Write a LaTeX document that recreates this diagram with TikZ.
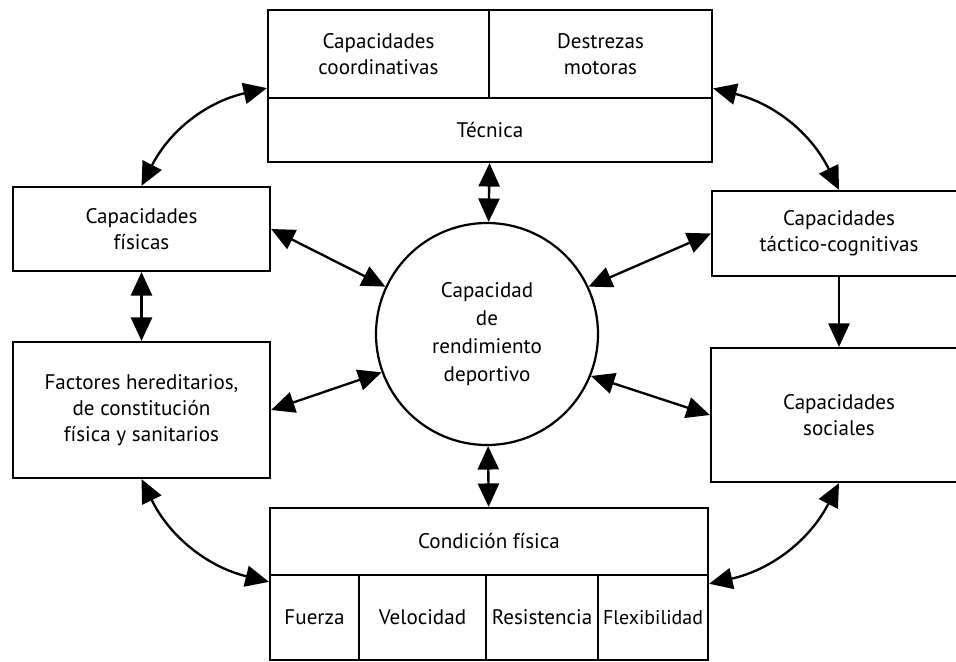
\documentclass[tikz,border=0pt]{standalone}
\usepackage{fontspec}
\setmainfont{PT Sans}
\usetikzlibrary{shapes,arrows.meta,positioning}

\begin{document}
\begin{tikzpicture}[
    box/.style={rectangle, draw=black, line width=1.9pt, align=center, inner sep=2pt, font=\fontsize{18}{22}\selectfont},
    hub/.style={circle, draw=black, line width=1.9pt, minimum size=6.66cm, align=center, font=\fontsize{18}{24}\selectfont},
    arrow/.style={-{Triangle[length=20pt,width=18pt]}, line width=2pt},
    dbl/.style={{Triangle[length=20pt,width=18pt]}-{Triangle[length=20pt,width=18pt]}, line width=2pt}
]

\useasboundingbox (0,0) rectangle (28.68,-19.86);
\clip (0,0) rectangle (28.68,-19.86);

% Centre
\node[hub] (hub) at (14.61,-10.02) {Capacidad\\de\\rendimiento\\deportivo};

% Top block
\node[box, minimum width=6.63cm, minimum height=2.64cm] (coord) at (11.355,-1.62) {Capacidades\\coordinativas};
\node[box, minimum width=6.69cm, minimum height=2.64cm] (destr) at (18.015,-1.62) {Destrezas\\motoras};
\node[box, minimum width=13.32cm, minimum height=1.92cm] (tecnica) at (14.7,-3.9) {Técnica};

% Left side
\node[box, minimum width=7.71cm, minimum height=2.52cm] (fisicas) at (4.245,-6.87) {Capacidades\\físicas};
\node[box, minimum width=7.71cm, minimum height=4.08cm] (factores) at (4.245,-12.3) {Factores hereditarios,\\de constitución\\física y sanitarios};

% Right side
\node[box, minimum width=7.62cm, minimum height=2.55cm] (tactico) at (25.17,-7.005) {Capacidades\\táctico-cognitivas};
\node[box, minimum width=7.68cm, minimum height=4.02cm] (sociales) at (25.17,-12.45) {Capacidades\\sociales};

% Bottom block
\node[box, minimum width=13.14cm, minimum height=2.01cm] (condicion) at (14.67,-16.245) {Condición física};
\node[box, minimum width=2.67cm, minimum height=2.55cm] (fuerza) at (9.435,-18.525) {Fuerza};
\node[box, minimum width=3.81cm, minimum height=2.55cm] (velocidad) at (12.675,-18.525) {Velocidad};
\node[box, minimum width=3.36cm, minimum height=2.55cm] (resistencia) at (16.26,-18.525) {Resistencia};
\node[box, minimum width=3.3cm, minimum height=2.55cm, font=\fontsize{17}{22}\selectfont] (flexibilidad) at (19.59,-18.525) {Flexibilidad};

% Links to the centre
\draw[dbl] (tecnica) -- (hub);
\draw[dbl] (hub) -- (condicion);
\draw[dbl] (fisicas.east) -- (hub.155);
\draw[dbl] (factores.east) -- (hub.200);
\draw[dbl] (tactico.west) -- (hub.25);
\draw[dbl] (sociales.west) -- (hub.338);

% Side links
\draw[dbl] (fisicas) -- (factores);
\draw[arrow] (tactico.south) -- (sociales.north);

% Corner arcs
\draw[dbl] (coord.197) to[bend right=25] (fisicas.north);
\draw[dbl] (destr.343) to[bend left=25] (tactico.north);
\draw[dbl] (factores.south) to[bend right=25] (fuerza.142);
\draw[dbl] (sociales.south) to[bend left=25] (flexibilidad.31);

\end{tikzpicture}
\end{document}
